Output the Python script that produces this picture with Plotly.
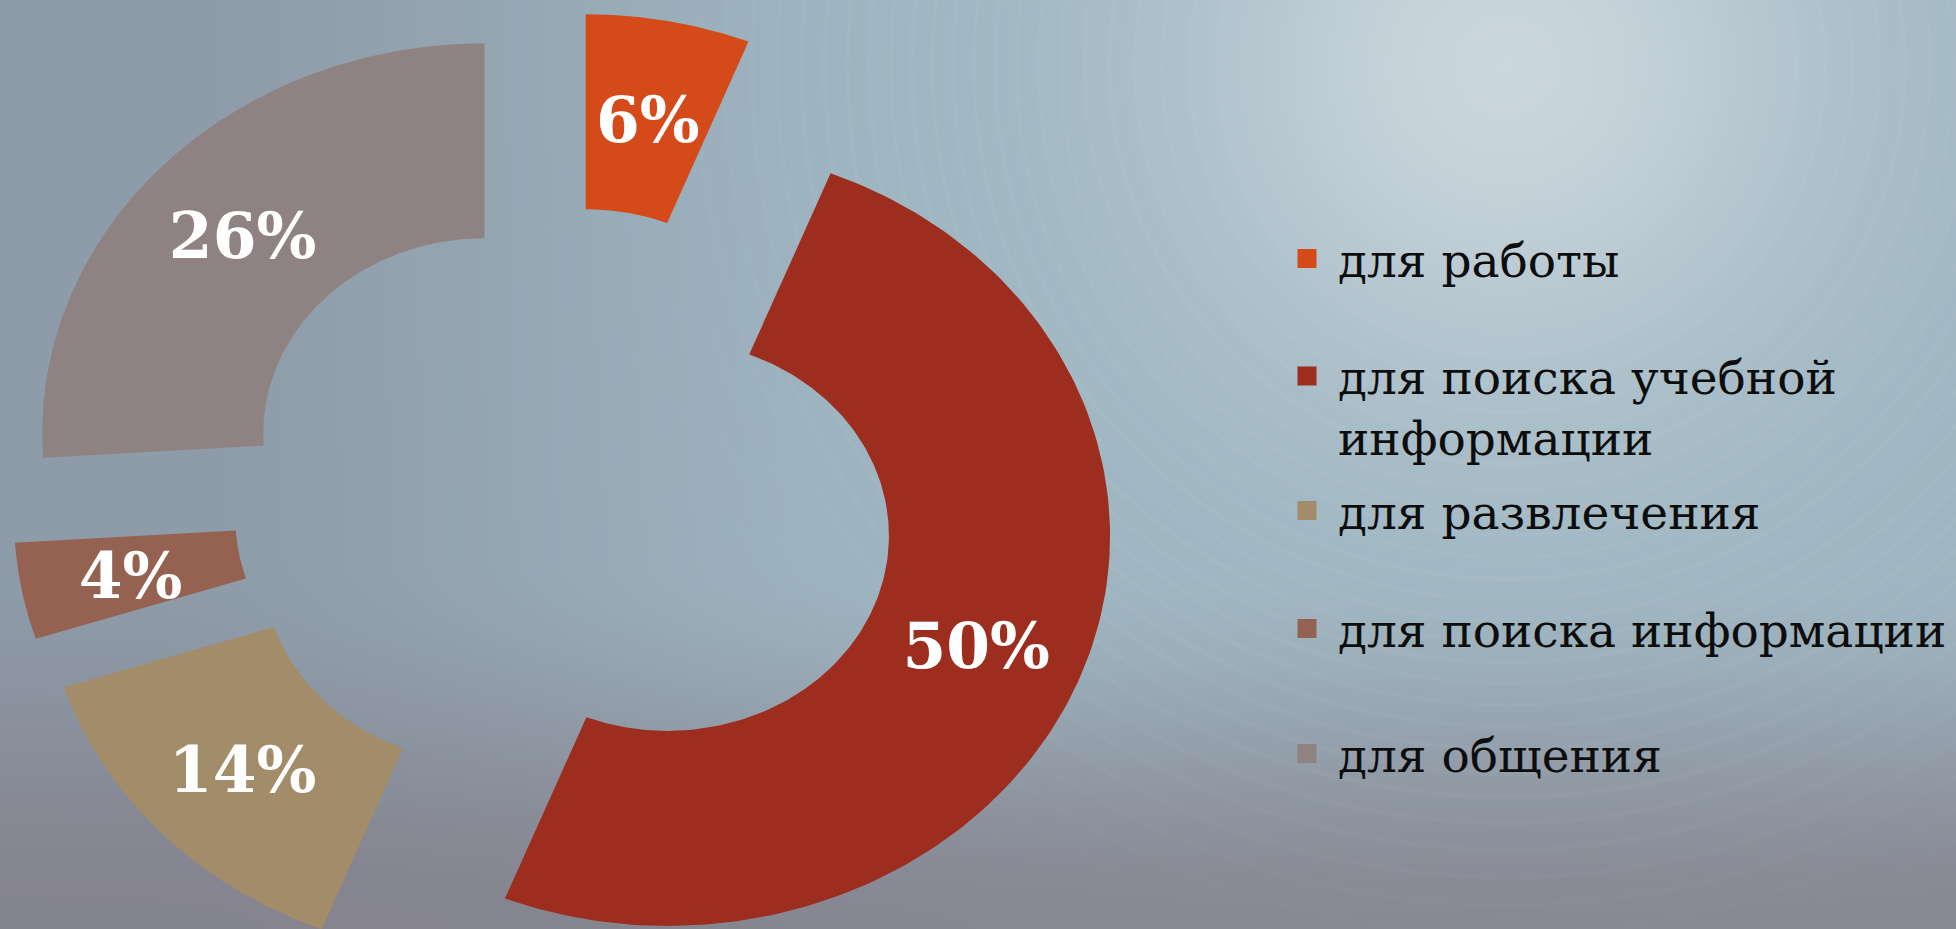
import base64
import struct
import zlib

import numpy as np
import plotly.graph_objects as go

# ---- data -------------------------------------------------------------
categories = [
    "для работы",
    "для поиска учебной информации",
    "для развлечения",
    "для поиска информации",
    "для общения",
]
legend_labels = [
    "для работы",
    "для поиска учебной<br>информации",
    "для развлечения",
    "для поиска информации",
    "для общения",
]
shares = [6, 50, 14, 4, 26]  # percent

# ---- style ------------------------------------------------------------
colors = ["#D44A19", "#9C2D1F", "#A28C6A", "#956150", "#8F8282"]

W, H = 1956, 929
HOLE = 0.5          # inner radius as a fraction of the outer radius
PULL = 0.25         # explode distance as a fraction of the outer radius
R_PX = 390          # outer radius, vertical pixels
X_STRETCH = 1.134   # the slide stretches the chart horizontally
CX_PX, CY_PX = 565, 500  # ring centre in page pixels
LABEL_DROP_PX = 9   # optical nudge of the percentage labels

# axis ranges so that one data unit equals one outer radius
x_unit = R_PX * X_STRETCH
x_range = [-CX_PX / x_unit, (W - CX_PX) / x_unit]
y_range = [-(H - CY_PX) / R_PX, CY_PX / R_PX]


def background_uri():
    """Soft grey-blue slide backdrop with a glow and faint rings, as PNG."""
    h, w = H // 2, W // 2
    yy, xx = np.mgrid[0:h, 0:w].astype(float)
    u = xx / (w - 1)
    v = yy / (h - 1)

    def smooth(t, a, b):
        t = np.clip((t - a) / (b - a), 0, 1)
        return t * t * (3 - 2 * t)

    left = np.array([142, 155, 168], float)
    mid = np.array([157, 180, 192], float)
    bottom = np.array([132, 130, 141], float)
    glow = np.array([222, 227, 232], float)

    img = left + (mid - left) * smooth(u, 0.05, 0.5)[..., None]
    img = img + (bottom - img) * (0.92 * smooth(v, 0.6, 1.0))[..., None]

    gx, gy = 0.77 * w, 0.07 * h
    d = np.hypot(xx - gx, yy - gy) * 2  # in full-size pixels
    g1 = np.exp(-(d / 300.0) ** 2)
    g2 = np.exp(-(d / 680.0) ** 2)
    img = img + (glow - img) * (0.9 * g1)[..., None]
    img = img + (np.array([174, 196, 207]) - img) * (0.3 * g2)[..., None]

    # faint swirl rings round the glow
    phase = 2 * np.pi * (d / 24.0 + 0.6 * np.sin(d / 90.0))
    rings = (0.5 + 0.5 * np.cos(phase)) ** 12
    env = smooth(d, 200, 340) * (1 - smooth(d, 650, 1000))
    img = img + (255 - img) * (0.045 * rings * env)[..., None]

    arr = np.clip(img, 0, 255).astype(np.uint8)
    raw = b"".join(b"\x00" + arr[i].tobytes() for i in range(h))

    def chunk(tag, data):
        return (struct.pack(">I", len(data)) + tag + data
                + struct.pack(">I", zlib.crc32(tag + data) & 0xFFFFFFFF))

    png = (b"\x89PNG\r\n\x1a\n"
           + chunk(b"IHDR", struct.pack(">IIBBBBB", w, h, 8, 2, 0, 0, 0))
           + chunk(b"IDAT", zlib.compress(raw, 9))
           + chunk(b"IEND", b""))
    return "data:image/png;base64," + base64.b64encode(png).decode()


fig = go.Figure()

# ---- exploded doughnut slices (clockwise from 12 o'clock) -------------
total = float(sum(shares))
cum = np.concatenate([[0.0], np.cumsum(shares)]) / total * 2 * np.pi
label_x, label_y = [], []
for i, (name, val) in enumerate(zip(categories, shares)):
    a0, a1 = cum[i], cum[i + 1]
    am = 0.5 * (a0 + a1)
    ox, oy = PULL * np.sin(am), PULL * np.cos(am)
    t_out = np.linspace(a0, a1, 160)
    t_in = t_out[::-1]
    xs = np.concatenate([np.sin(t_out), HOLE * np.sin(t_in)]) + ox
    ys = np.concatenate([np.cos(t_out), HOLE * np.cos(t_in)]) + oy
    xs = np.append(xs, xs[0])
    ys = np.append(ys, ys[0])
    fig.add_trace(go.Scatter(
        x=xs, y=ys, mode="lines", fill="toself",
        fillcolor=colors[i], line=dict(width=0, color=colors[i]),
        name=name, showlegend=False, hoverinfo="skip",
    ))
    rm = PULL + (1 + HOLE) / 2
    label_x.append(rm * np.sin(am))
    label_y.append(rm * np.cos(am) - LABEL_DROP_PX / R_PX)

fig.add_trace(go.Scatter(
    x=label_x, y=label_y, mode="text",
    text=[f"{v}%" for v in shares],
    textposition="middle center",
    textfont=dict(family="DejaVu Serif", size=63, color="white", weight=700),
    showlegend=False, hoverinfo="skip",
))

# ---- legend: one entry per category ------------------------------------
legend_rows_px = [259, 407, 511, 629, 754]
legend_ids = ["legend", "legend2", "legend3", "legend4", "legend5"]
LEG_X = 1276 / W
for i, lab in enumerate(legend_labels):
    fig.add_trace(go.Scatter(
        x=[None], y=[None], mode="markers", name=lab,
        marker=dict(symbol="square", size=16, color=colors[i],
                    line=dict(width=3, color=colors[i])),
        legend=legend_ids[i], showlegend=True, hoverinfo="skip",
    ))

legend_style = dict(
    x=LEG_X, xanchor="left", yanchor="middle",
    font=dict(family="DejaVu Serif", size=47, color="#0d0d0d"),
    bgcolor="rgba(0,0,0,0)", borderwidth=0, itemwidth=52,
    valign="top", itemclick=False, itemdoubleclick=False,
)
legend_layout = {
    lid: dict(legend_style, y=1 - ypx / H)
    for lid, ypx in zip(legend_ids, legend_rows_px)
}

fig.update_layout(
    width=W, height=H,
    margin=dict(l=0, r=0, t=0, b=0),
    paper_bgcolor="#93A6B3", plot_bgcolor="rgba(0,0,0,0)",
    xaxis=dict(range=x_range, visible=False, fixedrange=True),
    yaxis=dict(range=y_range, visible=False, fixedrange=True),
    hovermode=False,
    images=[dict(source=background_uri(), xref="paper", yref="paper",
                 x=0, y=1, sizex=1, sizey=1, sizing="stretch",
                 xanchor="left", yanchor="top", layer="below")],
    **legend_layout,
)

fig.write_html("out.html", config={"displayModeBar": False})
